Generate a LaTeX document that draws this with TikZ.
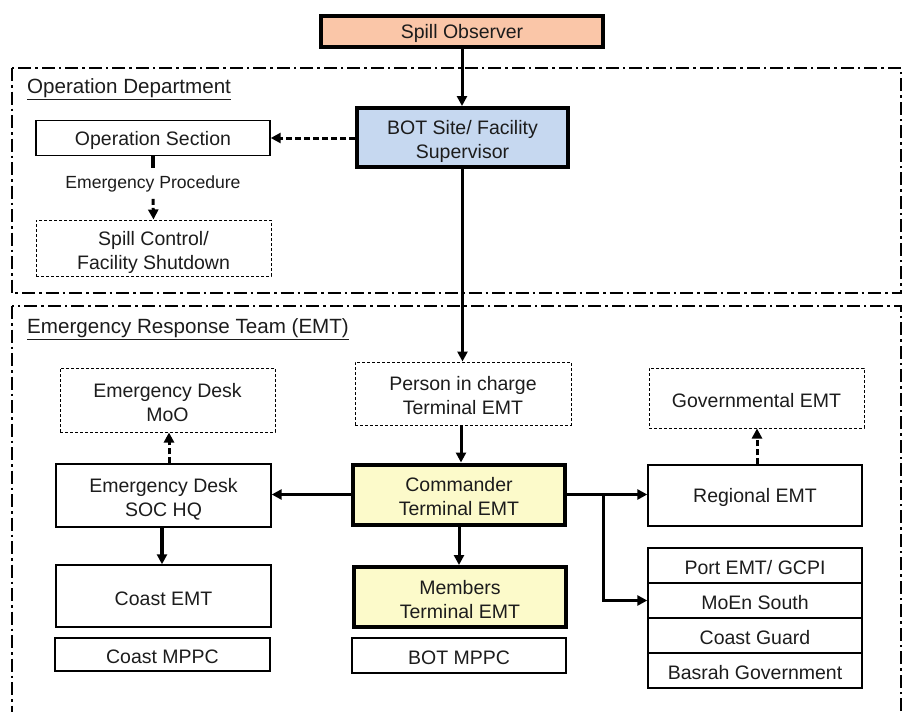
\documentclass[tikz,border=0pt]{standalone}
\usepackage{fontspec}
\setmainfont{Liberation Sans}
\usetikzlibrary{arrows.meta,calc}
\definecolor{spillfill}{RGB}{250,198,168}
\definecolor{botblue}{RGB}{198,216,240}
\definecolor{emtyellow}{RGB}{252,250,202}
\definecolor{ink}{RGB}{28,28,28}

\begin{document}
\begin{tikzpicture}[x=1pt,y=-1pt,
  box/.style={draw=black, line width=1.4pt, align=center, inner sep=0pt,
    font=\fontsize{19.5}{24}\selectfont, text=ink,
    execute at begin node={\rule{0pt}{19pt}}},
  twoline/.style={text height=42.5pt, text depth=0pt},
  dbox/.style={box, line width=1pt, dash pattern=on 3pt off 2pt},
  kbox/.style={box, line width=4pt},
  zone/.style={line width=2pt, dash pattern=on 13pt off 4pt on 2.5pt off 4pt},
  zonelabel/.style={anchor=west, inner sep=0pt, text=ink,
    font=\fontsize{20.6}{24}\selectfont},
  arr/.style={line width=3pt, -{Triangle[length=10pt,width=10pt]}},
  darr/.style={arr, dash pattern=on 6pt off 3pt},
]
\useasboundingbox (0,0) rectangle (903,712);

% department zones
\draw[zone] (12,68) rectangle (901,293);
\draw[zone] (12,306) rectangle (901,722);
\node[zonelabel] (opdept) at (27,89) {\underline{Operation Department}};
\node[zonelabel] (emtlbl) at (27,329) {\underline{Emergency Response Team (EMT)}};

% operation department
\node[kbox, fill=spillfill, minimum width=282pt, minimum height=31pt] (spill) at (462,31) {Spill Observer};
\node[kbox, twoline, fill=botblue, minimum width=211pt, minimum height=59pt] (bot) at (462.5,137.5) {BOT Site/ Facility\\Supervisor};
\node[box, minimum width=234pt, minimum height=35pt] (opsec) at (153,138) {Operation Section};
\node[text=ink, font=\fontsize{17.6}{20}\selectfont, inner sep=7pt] (proc) at (153,183.5) {Emergency Procedure};
\node[dbox, twoline, minimum width=235pt, minimum height=56pt] (shut) at (153.5,248) {Spill Control/\\Facility Shutdown};

% emergency response team
\node[dbox, twoline, minimum width=216pt, minimum height=63pt] (person) at (463,393.5) {Person in charge\\Terminal EMT};
\node[kbox, twoline, fill=emtyellow, minimum width=212pt, minimum height=60pt] (cmd) at (459,494.5) {Commander\\Terminal EMT};
\node[kbox, twoline, fill=emtyellow, minimum width=212pt, minimum height=60pt] (members) at (460,597) {Members\\Terminal EMT};
\node[box, minimum width=214pt, minimum height=35pt] (botmppc) at (459,655.5) {BOT MPPC};

\node[dbox, twoline, minimum width=215pt, minimum height=64pt] (moo) at (167.5,400) {Emergency Desk\\MoO};
\node[box, twoline, minimum width=215pt, minimum height=63pt] (soc) at (163.5,495.5) {Emergency Desk\\SOC HQ};
\node[box, minimum width=215pt, minimum height=62pt] (coast) at (163.5,596) {Coast EMT};
\node[box, minimum width=215pt, minimum height=33pt] (coastmppc) at (162.5,654.5) {Coast MPPC};

\node[dbox, minimum width=215pt, minimum height=60pt] (gov) at (756.5,398) {Governmental EMT};
\node[box, minimum width=214pt, minimum height=61pt] (regional) at (755,495.5) {Regional EMT};
\node[box, minimum width=214pt, minimum height=35pt] (port) at (755,565.5) {Port EMT/ GCPI};
\node[box, minimum width=214pt, minimum height=35pt] (moen) at (755,600.5) {MoEn South};
\node[box, minimum width=214pt, minimum height=35pt] (guard) at (755,635.5) {Coast Guard};
\node[box, minimum width=214pt, minimum height=35pt] (basrah) at (755,670.5) {Basrah Government};

% connectors
\draw[arr] (spill.south) -- (spill.south |- bot.north);
\draw[darr] (bot.west |- opsec.east) -- (opsec.east);
\draw[line width=4pt] (opsec.south) -- (proc.north);
\draw[darr] (proc.south) -- (shut.north);
\draw[arr] (bot.south) -- (bot.south |- person.north);
\draw[arr] ([xshift=-2pt]person.south) -- ([xshift=-2pt]person.south |- cmd.north);
\draw[arr] (cmd.west) -- (cmd.west -| soc.east);
\draw[arr] (cmd.south) -- (cmd.south |- members.north);
\draw[arr, line width=4pt] ([xshift=-1.5pt]soc.south) -- ([xshift=-1.5pt]soc.south |- coast.north);
\draw[darr] ([xshift=5.5pt]soc.north) -- ([xshift=5.5pt]soc.north |- moo.south);
\draw[arr] (cmd.east) -- (cmd.east -| regional.west);
\coordinate (branch) at ($(cmd.east)!0.457!(cmd.east -| regional.west)$);
\draw[arr] (branch) |- (moen.west);
\draw[darr] ([xshift=2pt]regional.north) -- ([xshift=2pt]regional.north |- gov.south);
\end{tikzpicture}
\end{document}
